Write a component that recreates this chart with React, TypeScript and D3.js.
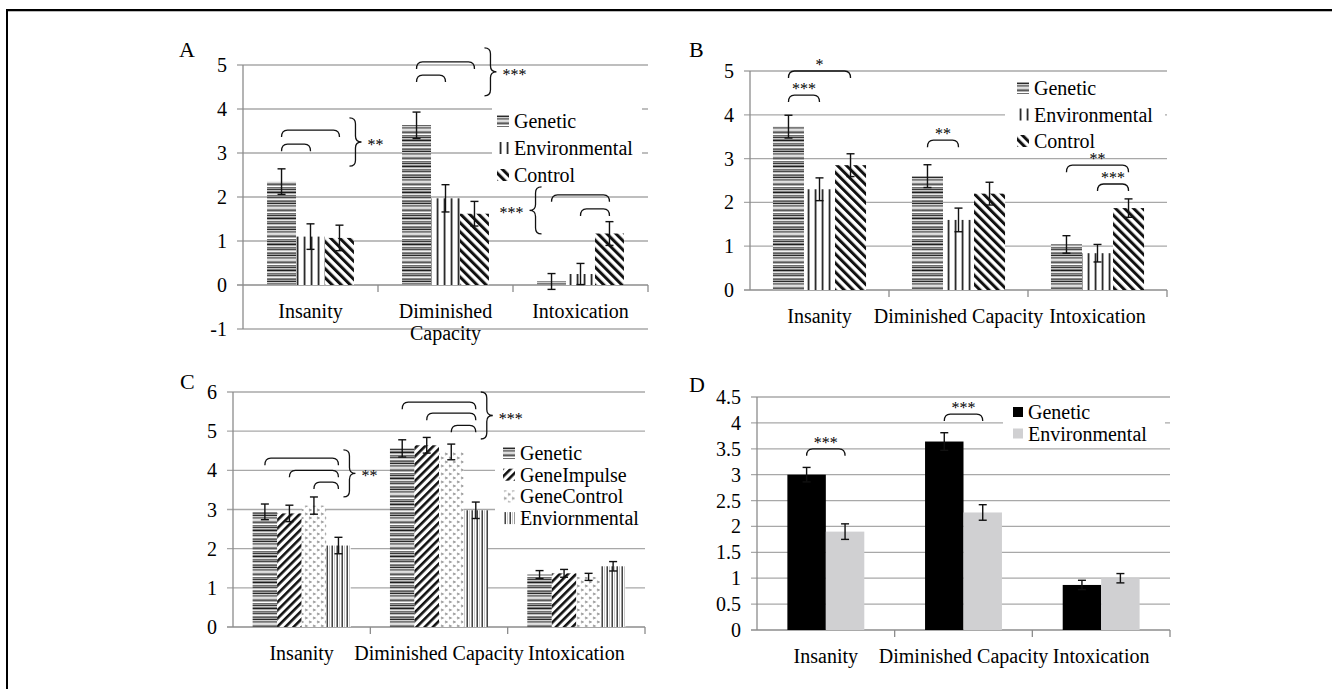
import React from 'react';
import * as d3 from 'd3';

const categories = ['Insanity', 'Diminished Capacity', 'Intoxication'];

// panel A
const panelASeries = ['Genetic', 'Environmental', 'Control'];
const panelAMeans = [[2.35, 3.63, 0.08], [1.1, 1.97, 0.25], [1.07, 1.62, 1.17]];
const panelAErrors = [[0.29, 0.3, 0.18], [0.29, 0.31, 0.24], [0.29, 0.28, 0.27]];
const panelATicks = [-1, 0, 1, 2, 3, 4, 5];
const panelABrackets = [
  { cat: 0, a: 0, b: 1, at: 3.2 }, { cat: 0, a: 0, b: 2, at: 3.52 },
  { cat: 1, a: 0, b: 1, at: 4.77 }, { cat: 1, a: 0, b: 2, at: 5.07 },
  { cat: 2, a: 0, b: 2, at: 2.05 }, { cat: 2, a: 1, b: 2, at: 1.73 }
];
const panelABraces = [
  { cat: 0, s: 2, from: 3.8, to: 2.7, dir: 1, label: '**' },
  { cat: 1, s: 2, from: 5.39, to: 4.3, dir: 1, label: '***' },
  { cat: 2, s: 0, from: 2.23, to: 1.16, dir: -1, label: '***' }
];

// panel B
const panelBSeries = ['Genetic', 'Environmental', 'Control'];
const panelBMeans = [[3.73, 2.6, 1.04], [2.3, 1.6, 0.84], [2.85, 2.2, 1.87]];
const panelBErrors = [[0.26, 0.26, 0.2], [0.26, 0.27, 0.2], [0.26, 0.26, 0.21]];
const panelBTicks = [0, 1, 2, 3, 4, 5];
const panelBBrackets = [
  { cat: 0, a: 0, b: 2, at: 5.0, label: '*' }, { cat: 0, a: 0, b: 1, at: 4.45, label: '***' },
  { cat: 1, a: 0, b: 1, at: 3.42, label: '**' },
  { cat: 2, a: 0, b: 2, at: 2.85, label: '**' }, { cat: 2, a: 1, b: 2, at: 2.42, label: '***' }
];

// panel C
const panelCSeries = ['Genetic', 'GeneImpulse', 'GeneControl', 'Enviornmental'];
const panelCMeans = [[2.94, 4.56, 1.34], [2.9, 4.64, 1.37], [3.1, 4.47, 1.28], [2.08, 2.98, 1.55]];
const panelCErrors = [[0.2, 0.22, 0.1], [0.21, 0.2, 0.1], [0.22, 0.2, 0.09], [0.21, 0.21, 0.12]];
const panelCTicks = [0, 1, 2, 3, 4, 5, 6];
const panelCBrackets = [
  { cat: 0, a: 0, b: 3, at: 4.31 }, { cat: 0, a: 1, b: 3, at: 4.0 }, { cat: 0, a: 2, b: 3, at: 3.7 },
  { cat: 1, a: 0, b: 3, at: 5.74 }, { cat: 1, a: 1, b: 3, at: 5.46 }, { cat: 1, a: 2, b: 3, at: 5.15 }
];
const panelCBraces = [
  { cat: 0, s: 3, from: 4.52, to: 3.32, dir: 1, label: '**' },
  { cat: 1, s: 3, from: 6.0, to: 4.8, dir: 1, label: '***' }
];

// panel D
const panelDSeries = ['Genetic', 'Environmental'];
const panelDMeans = [[3.0, 3.64, 0.87], [1.9, 2.27, 1.0]];
const panelDErrors = [[0.14, 0.17, 0.09], [0.15, 0.15, 0.09]];
const panelDTicks = [0, 0.5, 1, 1.5, 2, 2.5, 3, 3.5, 4, 4.5];
const panelDBrackets = [
  { cat: 0, a: 0, b: 1, at: 3.5, label: '***' },
  { cat: 1, a: 0, b: 1, at: 4.17, label: '***' }
];

const FONT = "'Liberation Serif', 'Times New Roman', serif";
const GRID = '#a8a8a8';
const AXIS = '#8c8c8c';

// grey levels for the scanned-looking horizontal stripe fill
const stripeShades = ['#d8d8d8', '#8a8a8a', '#5a5a5a', '#b0b0b0', '#ffffff', '#6e6e6e', '#9c9c9c', '#3a3a3a',
  '#c4c4c4', '#808080', '#1e1e1e', '#a8a8a8', '#e6e6e6', '#707070', '#949494', '#4a4a4a', '#bcbcbc',
  '#f0f0f0', '#868686', '#5e5e5e', '#a0a0a0', '#2a2a2a', '#cfcfcf', '#7a7a7a', '#969696', '#e0e0e0'];

function Patterns() {
  return (
    <defs>
      <pattern id="pGen" width="4" height={stripeShades.length} patternUnits="userSpaceOnUse">
        {stripeShades.map((c, i) => <rect key={i} x="0" y={i} width="4" height="1" fill={c} />)}
      </pattern>
      <pattern id="pEnv" width="7" height="4" patternUnits="userSpaceOnUse">
        <rect width="7" height="4" fill="#fff" />
        <rect x="2" width="1" height="4" fill="#b4b4b4" />
        <rect x="3" width="1" height="4" fill="#2c2c2c" />
        <rect x="4" width="1" height="4" fill="#9a9a9a" />
      </pattern>
      <pattern id="pEnv2" width="5" height="4" patternUnits="userSpaceOnUse">
        <rect width="5" height="4" fill="#fff" />
        <rect x="1" width="1" height="4" fill="#9a9a9a" />
        <rect x="2" width="1" height="4" fill="#444" />
        <rect x="4" width="1" height="4" fill="#c8c8c8" />
      </pattern>
      <pattern id="pCtl" width="6.4" height="6.4" patternUnits="userSpaceOnUse" patternTransform="rotate(-45)">
        <rect width="6.4" height="6.4" fill="#fff" />
        <rect width="3" height="6.4" fill="#111" />
      </pattern>
      <pattern id="pImp" width="5.8" height="5.8" patternUnits="userSpaceOnUse" patternTransform="rotate(45)">
        <rect width="5.8" height="5.8" fill="#fff" />
        <rect width="2.6" height="5.8" fill="#111" />
      </pattern>
      <pattern id="pDot" width="8" height="8" patternUnits="userSpaceOnUse">
        <rect width="8" height="8" fill="#fff" />
        <path d="M1,1 L3,2 L1,3" stroke="#9c9c9c" strokeWidth="1.3" fill="none" />
        <path d="M5,5 L7,6 L5,7" stroke="#9c9c9c" strokeWidth="1.3" fill="none" />
      </pattern>
    </defs>
  );
}

interface Bracket { cat: number; a: number; b: number; at: number; label?: string }
interface Brace { cat: number; s: number; from: number; to: number; dir: number; label: string }

interface PanelProps {
  letter: string; letterX: number; letterY: number;
  left: number; right: number; top: number; bottom: number;
  ticks: number[];
  series: string[]; means: number[][]; errors: number[][];
  fills: string[]; pad: number;
  legend: { x: number; y: number; dy: number; box: number[]; swatch: number };
  brackets: Bracket[]; braces?: Brace[]; braceGap?: number;
  wrap?: boolean;
}

function Panel(p: PanelProps) {
  const ext = d3.extent(p.ticks) as [number, number];
  const y = d3.scaleLinear().domain(ext).range([p.bottom, p.top]);
  const x0 = d3.scaleBand<string>().domain(categories).range([p.left, p.right]);
  const x1 = d3.scaleBand<string>().domain(p.series).range([0, x0.bandwidth()]).paddingOuter(p.pad);
  const cx = (ci: number, si: number) => (x0(categories[ci]) as number) + (x1(p.series[si]) as number) + x1.bandwidth() / 2;
  const y0 = y(0);

  return (
    <g style={{ fontFamily: FONT }}>
      <text x={p.letterX} y={p.letterY} fontSize="22">{p.letter}</text>
      {p.ticks.map(t => (
        <g key={t}>
          <line x1={p.left - 6} x2={p.right} y1={y(t)} y2={y(t)} stroke={t === 0 ? AXIS : GRID} strokeWidth="1.3" />
          <text x={p.left - 16} y={y(t) + 7} fontSize="20" textAnchor="end">{String(t)}</text>
        </g>
      ))}
      <line x1={p.left} x2={p.left} y1={p.top} y2={p.bottom} stroke={AXIS} strokeWidth="1.3" />
      {categories.map(c => (
        <line key={c} x1={(x0(c) as number) + x0.bandwidth()} x2={(x0(c) as number) + x0.bandwidth()}
          y1={y0} y2={y0 + 7} stroke={AXIS} strokeWidth="1.3" />
      ))}
      <rect x={p.legend.box[0]} y={p.legend.box[1]} width={p.legend.box[2]} height={p.legend.box[3]} fill="#fff" />
      {p.series.map((s, si) => (
        <g key={s}>
          {p.means[si].map((v, ci) => {
            const x = (x0(categories[ci]) as number) + (x1(s) as number);
            return (
              <rect key={ci} x={x} y={Math.min(y(v), y0)} width={x1.bandwidth()} height={Math.abs(y0 - y(v))}
                fill={p.fills[si]} />
            );
          })}
        </g>
      ))}
      {p.series.map((s, si) => (
        <g key={s + 'e'} stroke="#111" strokeWidth="1.4">
          {p.means[si].map((v, ci) => {
            const x = cx(ci, si), e = p.errors[si][ci];
            return (
              <g key={ci}>
                <line x1={x} x2={x} y1={y(v + e)} y2={y(v - e)} />
                <line x1={x - 4} x2={x + 4} y1={y(v + e)} y2={y(v + e)} />
                <line x1={x - 4} x2={x + 4} y1={y(v - e)} y2={y(v - e)} />
              </g>
            );
          })}
        </g>
      ))}
      {categories.map(c => {
        const xc = (x0(c) as number) + x0.bandwidth() / 2;
        const words = p.wrap ? c.split(' ') : [c];
        return (
          <text key={c} x={xc} y={y0 + 33} fontSize="20" textAnchor="middle">
            {words.map((w, k) => <tspan key={k} x={xc} dy={k === 0 ? 0 : 22}>{w}</tspan>)}
          </text>
        );
      })}
      {p.series.map((s, si) => (
        <g key={s + 'l'} transform={`translate(${p.legend.x},${p.legend.y + si * p.legend.dy})`}>
          <rect x="0" y={-p.legend.swatch / 2} width={p.legend.swatch} height={p.legend.swatch} fill={p.fills[si]} />
          <text x={p.legend.swatch + 5} y="7" fontSize="20">{s}</text>
        </g>
      ))}
      {p.brackets.map((b, i) => {
        const xa = cx(b.cat, b.a), xb = cx(b.cat, b.b), yt = y(b.at);
        return (
          <g key={i}>
            <path d={`M${xa},${yt + 7} Q${xa},${yt} ${xa + 6},${yt} L${xb - 6},${yt} Q${xb},${yt} ${xb},${yt + 7}`}
              fill="none" stroke="#111" strokeWidth="1.3" />
            {b.label && <text x={(xa + xb) / 2} y={yt - 1} fontSize="16" textAnchor="middle">{b.label}</text>}
          </g>
        );
      })}
      {(p.braces || []).map((b, i) => {
        const x = cx(b.cat, b.s) + b.dir * (p.braceGap || 10);
        const y1 = y(b.from), y2 = y(b.to), m = (y1 + y2) / 2;
        const w = 12 * b.dir, h = 6;
        const xm = x + w / 2;
        const d = `M${x},${y1} Q${xm},${y1} ${xm},${y1 + h} L${xm},${m - h} Q${xm},${m} ${x + w},${m} ` +
          `Q${xm},${m} ${xm},${m + h} L${xm},${y2 - h} Q${xm},${y2} ${x},${y2}`;
        return (
          <g key={i}>
            <path d={d} fill="none" stroke="#111" strokeWidth="1.3" />
            <text x={x + w + 6 * b.dir} y={m + 8} fontSize="16" textAnchor={b.dir > 0 ? 'start' : 'end'}>{b.label}</text>
          </g>
        );
      })}
    </g>
  );
}

export default function App() {
  return (
    <svg width={1332} height={689} style={{ position: 'absolute', left: 0, top: 0, background: '#fff' }}>
      <Patterns />
      <line x1={7} x2={1332} y1={10} y2={10} stroke="#000" strokeWidth="2" />
      <line x1={7} x2={1332} y1={11.5} y2={11.5} stroke="#bbb" strokeWidth="1" />
      <line x1={7} x2={7} y1={9} y2={689} stroke="#000" strokeWidth="2" />
      <Panel letter="A" letterX={179} letterY={57} left={243} right={648} top={65} bottom={329}
        ticks={panelATicks} series={panelASeries} means={panelAMeans} errors={panelAErrors}
        fills={['url(#pGen)', 'url(#pEnv)', 'url(#pCtl)']} pad={0.83}
        legend={{ x: 497, y: 121, dy: 27, box: [492, 108, 150, 80], swatch: 12 }}
        brackets={panelABrackets} braces={panelABraces} braceGap={10} wrap />
      <Panel letter="B" letterX={689} letterY={57} left={750} right={1167} top={71} bottom={290}
        ticks={panelBTicks} series={panelBSeries} means={panelBMeans} errors={panelBErrors}
        fills={['url(#pGen)', 'url(#pEnv)', 'url(#pCtl)']} pad={0.74}
        legend={{ x: 1017, y: 88, dy: 26.5, box: [1005, 75, 160, 78], swatch: 12 }}
        brackets={panelBBrackets} />
      <Panel letter="C" letterX={180} letterY={389} left={233} right={645} top={392} bottom={627}
        ticks={panelCTicks} series={panelCSeries} means={panelCMeans} errors={panelCErrors}
        fills={['url(#pGen)', 'url(#pImp)', 'url(#pDot)', 'url(#pEnv2)']} pad={0.8}
        legend={{ x: 503, y: 453, dy: 21.7, box: [495, 440, 150, 90], swatch: 12 }}
        brackets={panelCBrackets} braces={panelCBraces} braceGap={5} />
      <Panel letter="D" letterX={689} letterY={392} left={757} right={1170} top={397} bottom={630}
        ticks={panelDTicks} series={panelDSeries} means={panelDMeans} errors={panelDErrors}
        fills={['#000', '#d0d0d2']} pad={0.79}
        legend={{ x: 1013, y: 412, dy: 21.5, box: [1003, 401, 162, 44], swatch: 10 }}
        brackets={panelDBrackets} />
    </svg>
  );
}
